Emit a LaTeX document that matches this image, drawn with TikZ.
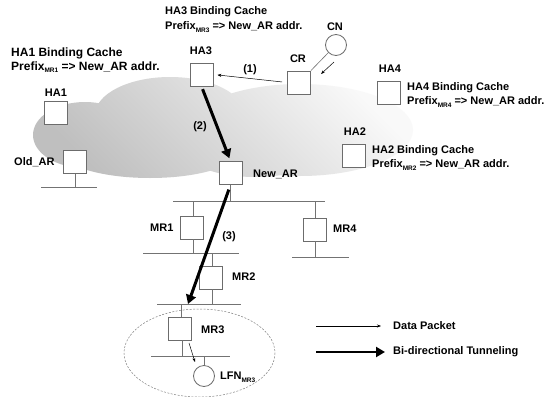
\documentclass[tikz,border=0pt]{standalone}
\usepackage{fontspec}
\setmainfont{Liberation Sans}
\usetikzlibrary{arrows.meta,calc,shapes.geometric}
\newcommand\sbs[1]{\raisebox{-2.5pt}{\fontsize{6.5}{7}\selectfont #1}}
\begin{document}
\begin{tikzpicture}[x=1pt,y=-1pt,
  lbl/.style={font=\bfseries\fontsize{11}{13}\selectfont, inner sep=0pt},
  lblbig/.style={font=\bfseries\fontsize{12}{14}\selectfont, inner sep=0pt},
  rbox/.style={draw=gray!85!black, fill=white, line width=0.8pt, minimum size=23pt, inner sep=0pt},
  host/.style={draw=gray!85!black, fill=white, line width=0.8pt, circle, minimum size=21pt, inner sep=0pt},
  net/.style={draw=gray!90!black, line width=0.8pt},
  pkt/.style={draw=black, line width=0.5pt, -{Stealth[length=4pt,width=3pt]}},
  tunnel/.style={draw=black, line width=3pt, -{Triangle[length=9pt,width=10pt]}}]
\useasboundingbox (0,0) rectangle (558,397);
\fill[white] (0,0) rectangle (558,397);
% cloud
\shade[top color=gray!5, bottom color=gray!50, shading angle=-45]
  (85,135) ellipse [x radius=52, y radius=33]
  (170,115) ellipse [x radius=75, y radius=38]
  (300,130) ellipse [x radius=113, y radius=46]
  (150,150) ellipse [x radius=90, y radius=28]
  (255,150) ellipse [x radius=70, y radius=27];
% MR3 dashed region
\draw[gray, dashed, dash pattern=on 2pt off 1.5pt, line width=0.5pt] (199.5,353) ellipse [x radius=75.5, y radius=44];
% boxes
\node[rbox] (HA3) at (201.5,74.5) {};
\node[rbox] (HA1) at (56,113) {};
\node[rbox] (OldAR) at (75,162) {};
\node[rbox] (NewAR) at (230.5,173) {};
\node[rbox] (CR) at (299,82.5) {};
\node[rbox] (HA4) at (389,93) {};
\node[rbox] (HA2) at (354,155.5) {};
\node[rbox] (MR1) at (192,227.5) {};
\node[rbox] (MR2) at (211,277.5) {};
\node[rbox] (MR3) at (180,328.5) {};
\node[rbox] (MR4) at (315,229.5) {};
\node[host] (CN) at (336,45) {};
\node[host] (LFN) at (204,376) {};
% labels
\node[lbl] (tHA3) at (201,51) {HA3};
\node[lbl] (tHA1) at (56,93) {HA1};
\node[lbl] (tCR) at (298,59) {CR};
\node[lbl] (tCN) at (335,27) {CN};
\node[lbl] (tHA4) at (390,69) {HA4};
\node[lbl] (tHA2) at (355,132) {HA2};
\node[lbl, anchor=west] (tOld) at (14,162) {Old\_AR};
\node[lbl, anchor=west] (tNew) at (253,174) {New\_AR};
\node[lbl, anchor=west] (tMR1) at (150,228) {MR1};
\node[lbl, anchor=west] (tMR2) at (232,277) {MR2};
\node[lbl, anchor=west] (tMR3) at (201,330) {MR3};
\node[lbl, anchor=west] (tMR4) at (333,229) {MR4};
\node[lbl, anchor=west] (tLFN) at (220,377) {LFN\sbs{MR3}};
% binding caches
\node[lbl, anchor=west] (bc3a) at (165,12) {HA3 Binding Cache};
\node[lbl, anchor=west] (bc3b) at (165,27) {Prefix\sbs{MR3} => New\_AR addr.};
\node[lblbig, anchor=west] (bc1a) at (11,53) {HA1 Binding Cache};
\node[lblbig, anchor=west] (bc1b) at (11,67) {Prefix\sbs{MR1} => New\_AR addr.};
\node[lbl, anchor=west] (bc4a) at (407,88) {HA4 Binding Cache};
\node[lbl, anchor=west] (bc4b) at (407,102) {Prefix\sbs{MR4} => New\_AR addr.};
\node[lbl, anchor=west] (bc2a) at (372,151) {HA2 Binding Cache};
\node[lbl, anchor=west] (bc2b) at (372,165) {Prefix\sbs{MR2} => New\_AR addr.};
% step labels
\node[lbl] (s1) at (250,70) {(1)};
\node[lbl] (s2) at (200,127) {(2)};
\node[lbl] (s3) at (229,237) {(3)};
% bus coordinates
\coordinate (b0L) at (41,187);  \coordinate (b0R) at (97,187);
\coordinate (b1L) at (173,201); \coordinate (b1R) at (325,201);
\coordinate (b2L) at (143,253); \coordinate (b2R) at (239,253);
\coordinate (b3L) at (157,304); \coordinate (b3R) at (241,304);
\coordinate (b4L) at (151,356); \coordinate (b4R) at (230,356);
\coordinate (b5L) at (292,257); \coordinate (b5R) at (349,257);
% buses
\draw[net] (b0L) -- (b0R);
\draw[net] (b1L) -- (b1R);
\draw[net] (b2L) -- (b2R);
\draw[net] (b3L) -- (b3R);
\draw[net] (b4L) -- (b4R);
\draw[net] (b5L) -- (b5R);
% attachments
\draw[net] (OldAR.south) -- (OldAR.south |- b0L);
\draw[net] (NewAR.south) -- (NewAR.south |- b1L);
\draw[net] ([xshift=1pt]MR1.north) -- ([xshift=1pt]MR1.north |- b1L);
\draw[net] ([xshift=1pt]MR1.south) -- ([xshift=1pt]MR1.south |- b2L);
\draw[net] ([xshift=1pt]MR2.north) -- ([xshift=1pt]MR2.north |- b2L);
\draw[net] ([xshift=1pt]MR2.south) -- ([xshift=1pt]MR2.south |- b3L);
\draw[net] ([xshift=1pt]MR3.north) -- ([xshift=1pt]MR3.north |- b3L);
\draw[net] ([xshift=2pt]MR3.south) -- ([xshift=2pt]MR3.south |- b4L);
\draw[net] (MR4.north) -- (MR4.north |- b1L);
\draw[net] (MR4.south) -- (MR4.south |- b5L);
\draw[net] (LFN.north) -- (LFN.north |- b4L);
\draw[net, line width=0.6pt] (CN.south west) -- (CR.north east);
% data packet arrows
\draw[pkt, shorten <=5pt, shorten >=4pt] (CR.west) -- (HA3.east);
\coordinate (a1s) at (334,62); \coordinate (a1e) at (321,74);
\draw[pkt] (a1s) -- (a1e);
\coordinate (a2s) at (189,343); \coordinate (a2e) at (195,362);
\draw[pkt] (a2s) -- (a2e);
% tunnels
\draw[tunnel, shorten <=3pt, shorten >=3pt] (HA3.south) -- (NewAR.north);
\coordinate (t3) at (188,304);
\draw[tunnel, shorten <=5pt] (NewAR.south) -- (t3);
% legend
\coordinate (l1s) at (316,326); \coordinate (l1e) at (381,326);
\coordinate (l2s) at (316,352); \coordinate (l2e) at (385,352);
\draw[pkt] (l1s) -- (l1e);
\draw[tunnel, line width=2.5pt] (l2s) -- (l2e);
\node[lbl, anchor=west] (lg1) at (393,326) {Data Packet};
\node[lbl, anchor=west] (lg2) at (393,352) {Bi-directional Tunneling};
\end{tikzpicture}
\end{document}
